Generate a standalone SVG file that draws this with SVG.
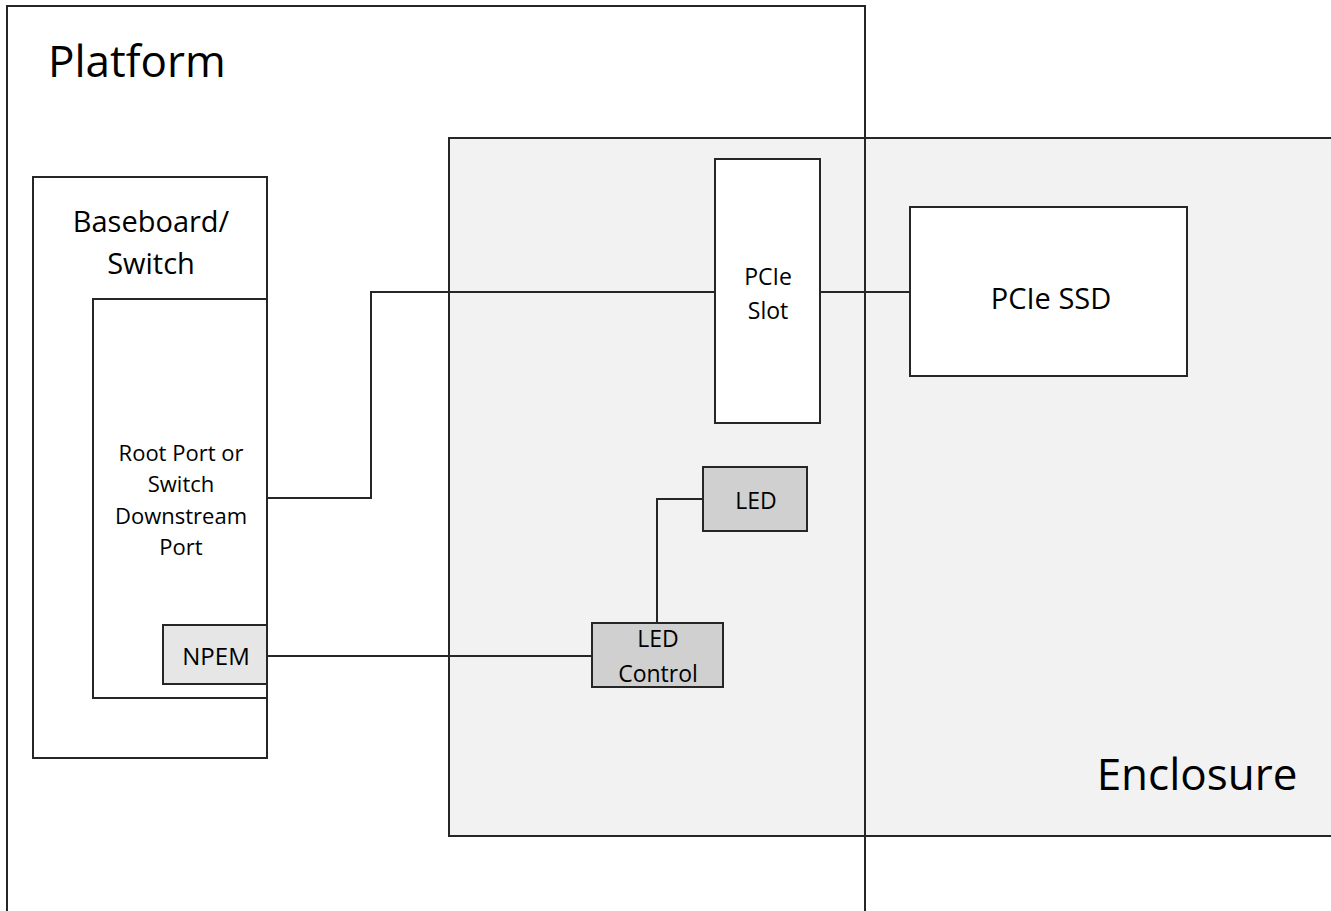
<svg xmlns="http://www.w3.org/2000/svg" width="1331" height="911" viewBox="0 0 1331 911">
<style>
.box{stroke:#262626;stroke-width:2}
.w{fill:#ffffff}
.g{fill:#d0d0d0}
.n{fill:#e6e6e6}
text{font-family:"Open Sans","Liberation Sans",sans-serif;fill:#000;text-anchor:middle}
.wire{fill:none;stroke:#262626;stroke-width:2}
</style>
<rect x="0" y="0" width="1331" height="911" fill="#ffffff"/>
<g id="enclosure">
<rect class="box" x="449" y="138" width="900" height="698" fill="#f2f2f2"/>
<text x="1197" y="790" font-size="44">Enclosure</text>
</g>
<g id="platform">
<rect class="box" x="7" y="6" width="858" height="920" fill="none"/>
<text x="48" y="77" font-size="44" style="text-anchor:start">Platform</text>
</g>
<g id="baseboard">
<rect class="box w" x="33" y="177" width="234" height="581"/>
<text x="151" y="232" font-size="29">Baseboard/</text>
<text x="151" y="274" font-size="29">Switch</text>
</g>
<g id="rootport">
<rect class="box w" x="93" y="299" width="174" height="399"/>
<text x="181" y="461" font-size="22">Root Port or</text>
<text x="181" y="492" font-size="22">Switch</text>
<text x="181" y="524" font-size="22">Downstream</text>
<text x="181" y="555" font-size="22">Port</text>
</g>
<g id="npem">
<rect class="box n" x="163" y="625" width="104" height="59"/>
<text x="216" y="665" font-size="24">NPEM</text>
</g>
<g id="pcieslot">
<rect class="box w" x="715" y="159" width="105" height="264"/>
<text x="768" y="285" font-size="23">PCIe</text>
<text x="768" y="319" font-size="23">Slot</text>
</g>
<g id="pciessd">
<rect class="box w" x="910" y="207" width="277" height="169"/>
<text x="1051" y="309" font-size="29">PCIe SSD</text>
</g>
<g id="led">
<rect class="box g" x="703" y="467" width="104" height="64"/>
<text x="756" y="509" font-size="23">LED</text>
</g>
<g id="ledcontrol">
<rect class="box g" x="592" y="623" width="131" height="64"/>
<text x="658" y="647" font-size="23">LED</text>
<text x="658" y="682" font-size="23">Control</text>
</g>
<g id="connectors">
<polyline class="wire" points="267,498 371,498 371,292 715,292"/>
<line class="wire" x1="820" y1="292" x2="910" y2="292"/>
<line class="wire" x1="267" y1="656" x2="592" y2="656"/>
<polyline class="wire" points="657,623 657,499 703,499"/>
</g>
</svg>
